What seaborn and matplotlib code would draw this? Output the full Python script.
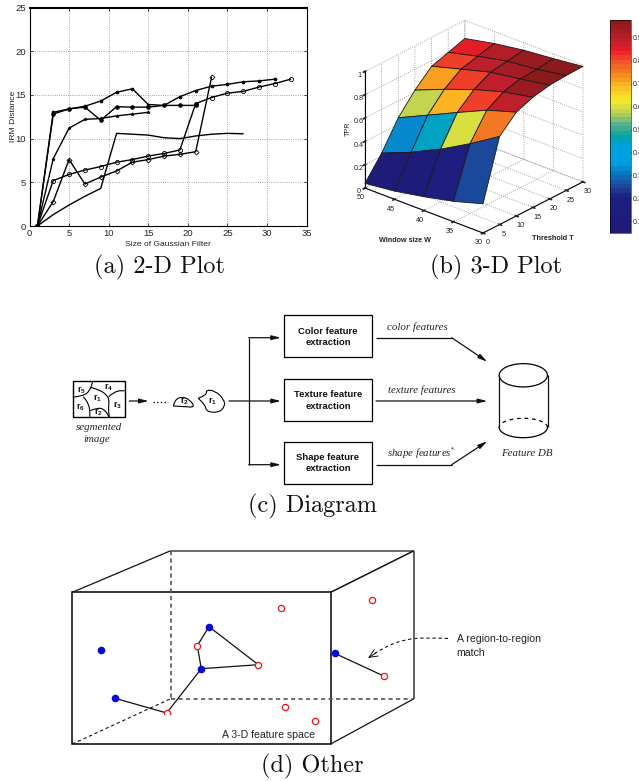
import numpy as np
import pandas as pd
import matplotlib
matplotlib.use("Agg")
import matplotlib.pyplot as plt
import seaborn as sns
from matplotlib.colors import LinearSegmentedColormap, Normalize
from matplotlib.cm import ScalarMappable
from matplotlib.patches import Rectangle, Ellipse, PathPatch
from matplotlib.path import Path
from mpl_toolkits.mplot3d import proj3d

W_PX, H_PX = 639, 781

# panel (a) values
x_top = [1, 3, 5, 7, 9, 11, 13, 15, 17, 19, 21, 23, 25, 27, 29, 31]
y_top = [0, 13.0, 13.4, 13.7, 14.3, 15.3, 15.7, 13.9, 13.8, 14.8, 15.5, 16.0, 16.2, 16.5, 16.6, 16.8]
x_dots = [1, 3, 5, 7, 9, 11, 13, 15, 17, 19, 21]
y_dots = [0, 12.8, 13.4, 13.6, 12.1, 13.65, 13.6, 13.6, 13.8, 13.8, 13.8]
x_circ = [1, 3, 5, 7, 9, 11, 13, 15, 17, 19, 21, 23, 25, 27, 29, 31, 33]
y_circ = [0, 5.2, 5.9, 6.4, 6.8, 7.3, 7.6, 8.0, 8.3, 8.7, 14.0, 14.7, 15.2, 15.4, 15.9, 16.3, 16.8]
x_diam = [1, 3, 5, 7, 9, 11, 13, 15, 17, 19, 21, 23]
y_diam = [0, 2.8, 7.6, 4.8, 5.6, 6.3, 7.3, 7.6, 8.0, 8.2, 8.5, 17.0]
x_star = [1, 3, 5, 7, 9, 11, 13, 15]
y_star = [0, 7.7, 11.2, 12.2, 12.3, 12.6, 12.8, 13.0]
x_plain = [1, 3, 5, 7, 9, 11, 13, 15, 17, 19, 21, 23, 25, 27]
y_plain = [0, 1.3, 2.4, 3.4, 4.3, 10.6, 10.5, 10.4, 10.1, 10.0, 10.3, 10.5, 10.6, 10.55]

# panel (b) values, one list per threshold, W = 30..50
window = [30, 35, 40, 45, 50]
threshold = [0, 5, 10, 15, 20, 25, 30]
tpr_t0 = [0.25, 0.175, 0.118, 0.07, 0.04]
tpr_t5 = [0.756, 0.597, 0.453, 0.33, 0.226]
tpr_t10 = [0.89, 0.81, 0.694, 0.575, 0.456]
tpr_t15 = [0.945, 0.894, 0.818, 0.724, 0.62]
tpr_t20 = [0.975, 0.932, 0.893, 0.823, 0.752]
tpr_t25 = [0.985, 0.942, 0.915, 0.861, 0.797]
tpr_t30 = [0.99, 0.961, 0.936, 0.897, 0.844]
bar_levels = [0.05, 0.2, 0.25, 0.3, 0.35, 0.42, 0.47, 0.52, 0.57, 0.63, 0.7, 0.75, 0.8, 0.85, 0.9, 0.978]
bar_colors = ["#1f1a78", "#1d1f80", "#1a4a9c", "#0a72bb", "#009fe3", "#00a0e0", "#00a5a5", "#55b08a",
              "#b5cf5a", "#f7ec27", "#fbb522", "#f58220", "#f0562a", "#ed1c24", "#be1e2d", "#8b1a1a"]

# panel (d) points, in page pixels
blue_x = [101, 115, 209, 201.3, 334.7]
blue_y = [650.3, 698.3, 626.7, 668.7, 653.3]
red_x = [281, 372, 197.3, 258.3, 383.7, 284.7, 315, 166.7]
red_y = [607.7, 600.3, 645.7, 664.7, 676, 706.7, 721.3, 713]
matches = [((115, 698.3), (166.7, 713)), ((166.7, 713), (201.3, 668.7)),
           ((201.3, 668.7), (197.3, 645.7)), ((197.3, 645.7), (209, 626.7)),
           ((209, 626.7), (258.3, 664.7)), ((201.3, 668.7), (258.3, 664.7)),
           ((334.7, 653.3), (383.7, 676))]

sns.set_theme(style="ticks")
plt.rcParams['font.family'] = ['Liberation Sans', 'DejaVu Sans']
plt.rcParams['mathtext.fontset'] = 'custom'
plt.rcParams['mathtext.bf'] = 'Liberation Sans:bold'
plt.rcParams['mathtext.rm'] = 'Liberation Sans'
plt.rcParams['grid.linestyle'] = ':'
plt.rcParams['grid.color'] = '#888888'
plt.rcParams['grid.linewidth'] = 0.6
plt.rcParams['axes.edgecolor'] = 'black'
plt.rcParams['axes.linewidth'] = 0.8

fig = plt.figure(figsize=(W_PX / 100, H_PX / 100), dpi=100)


def box(left, top, right, bottom):
    return [left / W_PX, 1 - bottom / H_PX, (right - left) / W_PX, (bottom - top) / H_PX]


# ---- (a) 2-D plot ----
ax = fig.add_axes(box(29.5, 7.5, 306.5, 226))
line_kw = dict(ax=ax, color='black', linewidth=1, errorbar=None, sort=False, legend=False)
sns.lineplot(x=x_plain, y=y_plain, **line_kw)
sns.lineplot(x=x_star, y=y_star, marker='*', markersize=2.6, markeredgecolor='black', markeredgewidth=0.4, **line_kw)
sns.lineplot(x=x_top, y=y_top, marker='o', markersize=1.9, markeredgecolor='black', **line_kw)
sns.lineplot(x=x_dots, y=y_dots, marker='o', markersize=2.5, markeredgecolor='black', **line_kw)
sns.lineplot(x=x_circ, y=y_circ, marker='o', markersize=3, markerfacecolor='none',
             markeredgecolor='black', markeredgewidth=0.6, **line_kw)
sns.lineplot(x=x_diam, y=y_diam, marker='D', markersize=2.5, markerfacecolor='none',
             markeredgecolor='black', markeredgewidth=0.6, **line_kw)
ax.set_xlim(0, 35)
ax.set_ylim(0, 25)
ax.set_xticks(range(0, 36, 5))
ax.set_yticks(range(0, 26, 5))
ax.grid(True)
ax.spines['top'].set_linewidth(1.5)
ax.tick_params(direction='in', length=2.5, width=0.6, labelsize=6.8, pad=2.5, top=True, right=True)
ax.set_xlabel('Size of Gaussian Filter', fontsize=6.1, labelpad=1.5, color='#222222')
ax.set_ylabel('IRM Distance', fontsize=6.1, labelpad=-1, color='#222222')

# ---- (b) 3-D plot ----
cmap = LinearSegmentedColormap.from_list(
    'bar', [((v - bar_levels[0]) / (bar_levels[-1] - bar_levels[0]), c) for v, c in zip(bar_levels, bar_colors)], N=48)
norm = Normalize(bar_levels[0], bar_levels[-1])
tt, ww = np.meshgrid(threshold, window, indexing='ij')
zz = np.array([tpr_t0, tpr_t5, tpr_t10, tpr_t15, tpr_t20, tpr_t25, tpr_t30])

ax3 = fig.add_axes(box(340, 0, 600, 250), projection='3d', proj_type='ortho')
ax3.view_init(elev=26.2, azim=-139.2)
ax3.set_box_aspect((153, 156, 130))
ax3.plot_surface(tt, ww, zz, facecolors=cmap(norm(zz)), shade=False, rstride=1, cstride=1,
                 edgecolor='#1a1a1a', linewidth=0.6, antialiased=True)
ax3.set_xlim(0, 30)
ax3.set_ylim(30, 50)
ax3.set_zlim(0, 1)
ax3.set_xticks(range(0, 31, 5))
ax3.set_yticks(range(30, 51, 5))
ax3.set_zticks([0, 0.2, 0.4, 0.6, 0.8, 1])
ax3.set_zticklabels(['0', '0.2', '0.4', '0.6', '0.8', '1'])
ax3.tick_params(labelsize=5.2, colors='#222222')
ax3.tick_params(axis='x', pad=-4.5)
ax3.tick_params(axis='y', pad=-4.5)
ax3.tick_params(axis='z', pad=-5.5)
for axis in (ax3.xaxis, ax3.yaxis, ax3.zaxis):
    axis.set_pane_color((1, 1, 1, 0))
    axis.pane.set_edgecolor('none')
ax3.patch.set_alpha(0)

# fit the projected floor onto where it sits in the picture
front, left_c, right_c = (0, 30, 0), (0, 50, 0), (30, 30, 0)
target_front = np.array([483.0, 233.0])
target_span = 218.0
for _ in range(3):
    fig.canvas.draw()
    pts = []
    for p in (front, left_c, right_c):
        X, Y, _z = proj3d.proj_transform(*p, ax3.get_proj())
        d = ax3.transData.transform((X, Y))
        pts.append([d[0], H_PX - d[1]])
    pts = np.array(pts)
    scale = target_span / (pts[2, 0] - pts[1, 0])
    pos = ax3.get_position(original=True)
    cx, cy = pos.x0 * W_PX + pos.width * W_PX / 2, (1 - pos.y0) * H_PX - pos.height * H_PX / 2
    nw, nh = pos.width * W_PX * scale, pos.height * H_PX * scale
    new_front = np.array([cx, cy]) + (pts[0] - [cx, cy]) * scale
    shift = target_front - new_front
    cx, cy = cx + shift[0], cy + shift[1]
    ax3.set_position(box(cx - nw / 2, cy - nh / 2, cx + nw / 2, cy + nh / 2))

cax = fig.add_axes(box(610, 20, 631, 232.7))
cb = fig.colorbar(ScalarMappable(norm=norm, cmap=cmap), cax=cax)
cb.set_ticks([0.1, 0.2, 0.3, 0.4, 0.5, 0.6, 0.7, 0.8, 0.9])
cb.ax.tick_params(labelsize=5, length=1.5, width=0.5, direction='in', pad=1.5, left=True, right=True, colors='#222222')
cb.outline.set_linewidth(0.4)

# ---- page overlay for diagrams and captions ----
ov = fig.add_axes([0, 0, 1, 1], zorder=5)
ov.set_xlim(0, W_PX)
ov.set_ylim(H_PX, 0)
ov.axis('off')
ov.patch.set_alpha(0)

cap_kw = dict(family=['cmr10', 'DejaVu Serif'], fontsize=17.5, ha='center', va='center', color='#111111')
ov.text(160, 267, '(a) 2-D Plot', **cap_kw)
ov.text(496.5, 267, '(b) 3-D Plot', **cap_kw)
ov.text(312, 506, '(c) Diagram', **cap_kw)
ov.text(312, 766, '(d) Other', **cap_kw)

lab_kw = dict(fontsize=5.2, fontweight='bold', ha='center', va='center', color='#222222')
ov.text(405, 241, 'Window size W', **lab_kw)
ov.text(553, 239, 'Threshold T', **lab_kw)
ov.text(348, 129, 'TPR', rotation=90, fontsize=5.2, ha='center', va='center', color='#222222')


def curve(points, **kw):
    # smooth line through hand-picked page points
    pts = np.array(points, dtype=float)
    verts = [pts[0]]
    codes = [Path.MOVETO]
    for i in range(1, len(pts) - 1):
        verts += [pts[i], (pts[i] + pts[i + 1]) / 2]
        codes += [Path.CURVE3, Path.CURVE3]
    verts.append(pts[-1])
    codes.append(Path.LINETO)
    ov.add_patch(PathPatch(Path(verts, codes), fill=False, **kw))


def arrow(x0, y0, x1, y1, lw=0.9):
    ov.annotate('', xy=(x1, y1), xytext=(x0, y0),
                arrowprops=dict(arrowstyle='-|>,head_length=0.45,head_width=0.11', color='#111111',
                                lw=lw, shrinkA=0, shrinkB=0))


def seg(xs, ys, lw=0.9, color='#111111', ls='-'):
    ov.plot(xs, ys, color=color, linewidth=lw, linestyle=ls, solid_capstyle='butt')


# ---- (c) diagram ----
ov.add_patch(Rectangle((72.7, 381.3), 52, 36, fill=False, ec='black', lw=1))
for pts in ([(72.7, 397.3), (83.3, 396), (90, 390.7), (92.7, 381.3)],
            [(90.7, 387.3), (100, 390), (106.7, 395), (109.3, 400), (108.3, 408.3), (109.3, 417.3)],
            [(108.7, 396.7), (115, 391), (124.7, 390.7)],
            [(83.3, 396.7), (89.3, 403.3), (90, 417.3)],
            [(90, 410.7), (98.3, 407.3), (105, 410), (109.3, 417.3)],
            [(173.3, 406), (175, 399.3), (182.7, 396.7), (190, 400), (195, 407.3), (185, 406.7), (173.3, 406)],
            [(198.3, 398.3), (206.7, 395), (206, 390), (215, 390.7), (224, 399.3), (225, 406.7),
             (218.3, 412.7), (206.7, 411.7), (205, 405), (198.3, 398.3)]):
    curve(pts, ec='black', lw=0.8)
for lab, lx, ly in (('5', 81.7, 390), ('4', 108.7, 387.3), ('1', 97.3, 398.3), ('3', 117.3, 405.3),
                    ('6', 80, 407.3), ('2', 98.3, 412.7), ('2', 184, 401.7), ('1', 212.7, 401.7)):
    ov.text(lx, ly, r'$\mathbf{r_%s}$' % lab, fontsize=6.5, ha='center', va='center', color='#111111')
arrow(129.3, 401, 148.7, 401)
seg([153.3, 168.3], [402, 402], lw=1, ls=':')
arrow(229, 401, 281, 401)
seg([248.7, 248.7], [337.7, 464.7])
arrow(248.7, 337.7, 281, 337.7)
arrow(248.7, 464.7, 281, 464.7)

for top, name in ((315.3, 'Color'), (379, 'Texture'), (441.7, 'Shape')):
    ov.add_patch(Rectangle((284.3, top), 87.4, 42, fill=False, ec='black', lw=0.9))
    ov.text(328, top + 21.5, name + ' feature\nextraction', fontsize=6.8, fontweight='bold',
            ha='center', va='center', linespacing=1.3, color='#111111')

seg([376, 451.7], [337.7, 337.7])
arrow(451.7, 337.7, 487.3, 361.7)
arrow(376, 401, 487.3, 401)
seg([376, 451.7], [464.7, 464.7])
arrow(451.7, 464.7, 487.3, 441.3)

ser_kw = dict(family='Liberation Serif', style='italic', fontsize=7.8, ha='center', va='center', color='#222222')
ov.text(417.3, 327, 'color features', **ser_kw)
ov.text(421.7, 390, 'texture features', **ser_kw)
ov.text(421, 453, r'shape features$^{*}$', **ser_kw)
ov.text(526.7, 454, 'Feature DB', **ser_kw)
ov.text(99.3, 427, 'segmented', **ser_kw)
ov.text(96.7, 440, 'image', **ser_kw)

ov.add_patch(Ellipse((523.3, 375.3), 48.3, 23.3, fill=False, ec='black', lw=0.9))
seg([499.2, 499.2], [375.3, 427.3])
seg([547.5, 547.5], [375.3, 427.3])
# y axis is flipped here, so the lower half on the page is drawn with sampled points
arc_t = np.linspace(0, np.pi, 40)
ov.plot(523.3 + 24.15 * np.cos(arc_t), 427.3 + 10.4 * np.sin(arc_t), color='black', linewidth=0.9)
ov.plot(523.3 + 24.15 * np.cos(arc_t), 427.3 - 9 * np.sin(arc_t), color='black', linewidth=0.9, linestyle=(0, (3, 3)))

# ---- (d) feature space ----
ov.add_patch(Rectangle((72.3, 592.3), 258.4, 151.7, fill=False, ec='black', lw=1.1))
seg([72.3, 170.7], [592.3, 550.7])
seg([170.7, 414], [550.7, 550.7], lw=1.1, color='#444444')
seg([330.7, 414], [592.3, 550.7], lw=1.1)
seg([414, 414], [550.7, 698.7], lw=1.3, color='#555555')
seg([330.7, 414], [744, 698.7])
seg([170.7, 170.7], [550.7, 698.7], lw=1.2, color='#555555', ls=(0, (2.5, 2)))
seg([170.7, 414], [698.7, 698.7], lw=1.2, color='#555555', ls=(0, (2.5, 2)))
seg([72.3, 170.7], [744, 698.7], lw=0.8, color='#111111', ls=(0, (3, 2.5)))
for (p0, p1) in matches:
    seg([p0[0], p1[0]], [p0[1], p1[1]], lw=0.9, color='#111111')
sns.scatterplot(x=red_x, y=red_y, ax=ov, s=20, facecolor='white', edgecolor='#e8141c', linewidth=0.9, zorder=4)
sns.scatterplot(x=blue_x, y=blue_y, ax=ov, s=30, color='#0505e0', linewidth=0, zorder=4)
ov.add_patch(Rectangle((160, 715), 14, 6, fc='white', ec='none', zorder=5))
ov.set_xlim(0, W_PX)
ov.set_ylim(H_PX, 0)

txt_kw = dict(fontsize=7.6, ha='left', va='center', color='#222222')
ov.text(221.7, 735.3, 'A 3-D feature space', **txt_kw)
ov.text(456.7, 639.5, 'A region-to-region', **txt_kw)
ov.text(456.7, 653, 'match', **txt_kw)
curve([(448, 638.5), (425, 637.5), (405, 639.5), (388, 645.5), (372, 655)], ec='#111111', lw=0.8, ls=(0, (3, 2.5)))
ov.annotate('', xy=(368, 658), xytext=(376, 653),
            arrowprops=dict(arrowstyle='->,head_length=0.5,head_width=0.22', color='#111111', lw=0.7,
                            shrinkA=0, shrinkB=0))

fig.savefig('out.png', dpi=100)
